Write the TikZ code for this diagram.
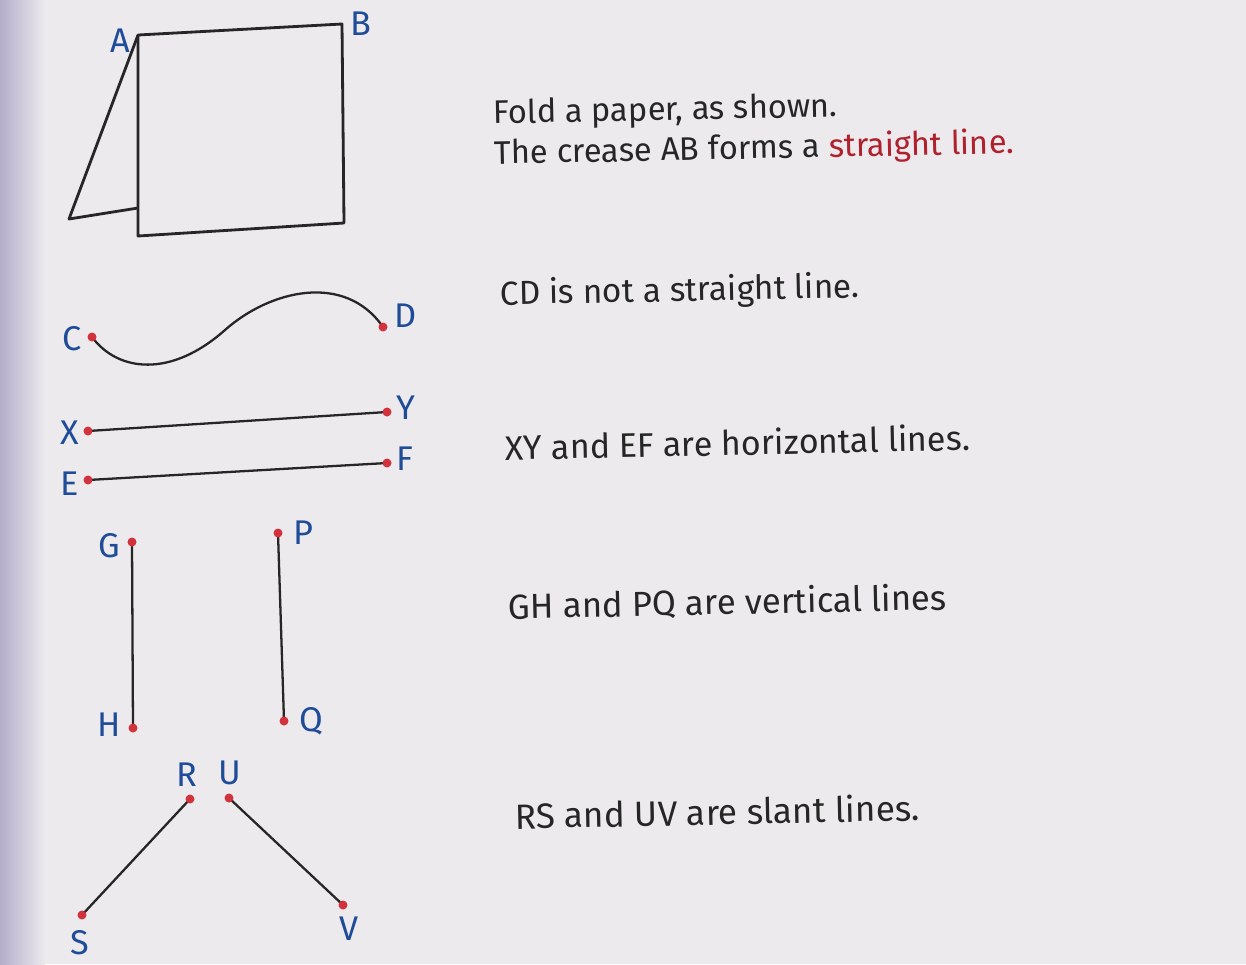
\documentclass[tikz,border=0pt]{standalone}
\usepackage{fontspec}
\setmainfont{Fira Sans}
\usepackage{xcolor}
\usetikzlibrary{positioning,calc}
\definecolor{paper}{HTML}{ECEAED}
\definecolor{spine}{HTML}{B4AECB}
\definecolor{ink}{HTML}{262626}
\definecolor{inkblue}{HTML}{1F4C98}
\definecolor{dotred}{HTML}{D2323C}
\definecolor{accentred}{HTML}{B0212E}
\tikzset{
  ptlabel/.style={font=\fontsize{19.5}{22}\selectfont,text=inkblue,inner sep=0pt},
  note/.style={font=\fontsize{#1}{23}\selectfont,text=ink,anchor=base west,
               inner sep=0pt,rotate=1.2},
  note/.default=18.6,
  linestroke/.style={draw=ink,line width=1.3pt,line cap=round},
  paperedge/.style={draw=ink,line width=1.6pt,line join=round}
}

\begin{document}
\begin{tikzpicture}[x=0.02cm,y=-0.02cm]
      \useasboundingbox (0,0) rectangle (1246,964);
      \fill[paper] (0,0) rectangle (1246,964);
      \shade[left color=spine,right color=paper] (0,0) rectangle (45,964);

      % folded paper
      \coordinate (A) at (138,35);
      \coordinate (B) at (342,24);
      \coordinate (br) at (344,223);
      \coordinate (bl) at (138,236);
      \coordinate (flap) at (69,219);
      \coordinate (fold) at (138,208);
      \draw[paperedge] (A) -- (B) -- (br) -- (bl) -- cycle;
      \draw[paperedge] (A) -- (flap) -- (fold);
      \node[ptlabel] (lA) at (120,41) {A};
      \node[ptlabel] (lB) at (361,24) {B};

      % curve CD
      \coordinate (C) at (92,337);
      \coordinate (mid) at (225,330);
      \coordinate (D) at (383,327);
      \draw[linestroke] (C) .. controls (118,372) and (171,378) .. (mid)
                            .. controls (270,290) and (345,272) .. (D);
      \node[ptlabel] (lC) at (72,339) {C};
      \node[ptlabel] (lD) at (406,316) {D};

      % horizontal lines
      \coordinate (X) at (88,431);
      \coordinate (Y) at (387,412);
      \coordinate (E) at (88,480);
      \coordinate (F) at (387,463);
      \draw[linestroke] (X) -- (Y);
      \draw[linestroke] (E) -- (F);
      \node[ptlabel] (lX) at (70,433) {X};
      \node[ptlabel] (lY) at (406,408) {Y};
      \node[ptlabel] (lE) at (70,484) {E};
      \node[ptlabel] (lF) at (405,459) {F};

      % vertical lines
      \coordinate (G) at (132,542);
      \coordinate (H) at (133,728);
      \coordinate (P) at (278,533);
      \coordinate (Q) at (284,721);
      \draw[linestroke] (G) -- (H);
      \draw[linestroke] (P) -- (Q);
      \node[ptlabel] (lG) at (109,546) {G};
      \node[ptlabel] (lH) at (109,725) {H};
      \node[ptlabel] (lP) at (303,533) {P};
      \node[ptlabel] (lQ) at (311,721) {Q};

      % slant lines
      \coordinate (R) at (190,799);
      \coordinate (S) at (82,915);
      \coordinate (U) at (229,798);
      \coordinate (V) at (343,905);
      \draw[linestroke] (R) -- (S);
      \draw[linestroke] (U) -- (V);
      \node[ptlabel] (lR) at (187,775) {R};
      \node[ptlabel] (lU) at (230,773) {U};
      \node[ptlabel] (lS) at (80,943) {S};
      \node[ptlabel] (lV) at (349,929) {V};

      % end points
      \foreach \p in {C,D,X,Y,E,F,G,H,P,Q,R,S,U,V} {
        \fill[dotred] (\p) circle (4.5);
      }

      % texts on the right
      \node[note,anchor=north west,align=left] (t1) at (493,99)
        {Fold a paper, as shown.\\
         The crease AB forms a \textcolor{accentred}{straight line.}};
      \node[note=19] (t3) at (500,305) {CD is not a straight line.};
      \node[note=19.4] (t4) at (505,460) {XY and EF are horizontal lines.};
      \node[note=19.8] (t5) at (508,619) {GH and PQ are vertical lines};
      \node[note=20] (t6) at (515,829) {RS and UV are slant lines.};
    \end{tikzpicture}
\end{document}
